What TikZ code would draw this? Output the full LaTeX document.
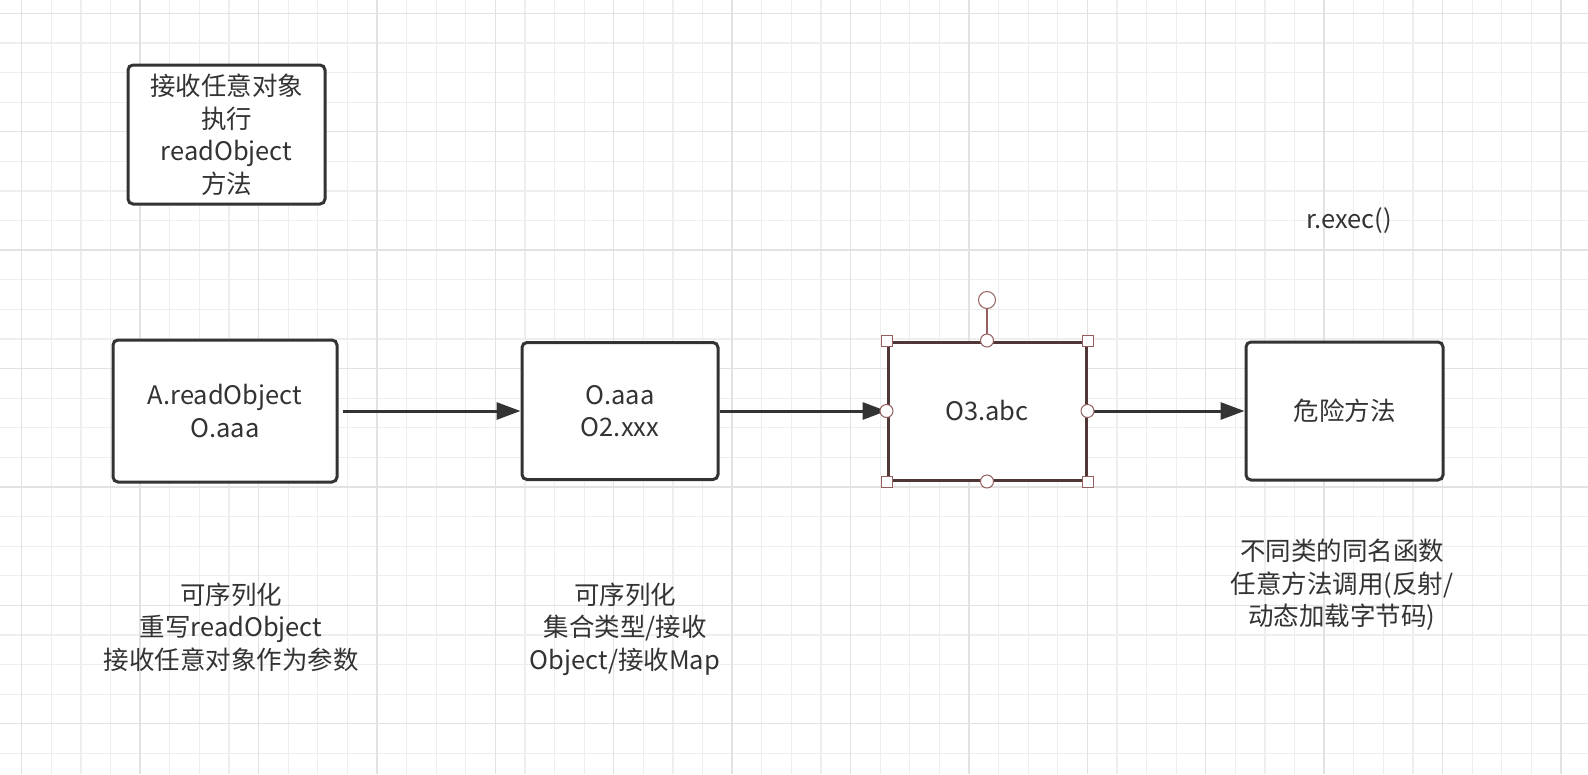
\documentclass[tikz,border=0pt]{standalone}
\usepackage{fontspec}
\setmainfont{Noto Sans CJK SC}
\usetikzlibrary{arrows.meta}
\definecolor{ink}{HTML}{333333}
\definecolor{gridminor}{HTML}{EEEEEE}
\definecolor{gridmajor}{HTML}{E2E2E2}
\definecolor{selbox}{RGB}{80,55,55}
\definecolor{selhandle}{RGB}{150,95,95}
\tikzset{
  box/.style={draw=ink, line width=3pt, rounded corners=5pt, fill=white, text=ink,
    align=center, inner sep=0pt, font=\fontsize{25.5}{32.5}\selectfont},
  selbox/.style={draw=selbox, line width=3pt, fill=white, text=ink, align=center,
    inner sep=0pt, font=\fontsize{25.5}{32.5}\selectfont},
  label/.style={text=ink, align=center, inner sep=0pt, font=\fontsize{25.5}{32.5}\selectfont},
  flow/.style={draw=ink, line width=3pt, -{Triangle[length=24pt,width=17pt]}},
  sqhandle/.style={draw=selhandle, fill=white, line width=1pt, minimum size=11pt, inner sep=0pt},
  cihandle/.style={circle, draw=selhandle, fill=white, line width=1pt, minimum size=13pt, inner sep=0pt},
}
\begin{document}
\begin{tikzpicture}[x=1pt,y=-1pt]
\useasboundingbox (0,0) rectangle (1588,774);
\fill[white] (0,0) rectangle (1588,774);
% grid
\foreach \i in {0,...,54} {
  \draw[gridminor, line width=1.2pt] ({21.7+29.6*(\i-1)},0) -- ({21.7+29.6*(\i-1)},774);
}
\foreach \i in {0,...,26} {
  \draw[gridminor, line width=1.2pt] (0,{13.3+29.6*\i}) -- (1588,{13.3+29.6*\i});
}
\foreach \i in {0,...,13} {
  \draw[gridmajor, line width=1.4pt] ({21.7+118.4*\i},0) -- ({21.7+118.4*\i},774);
}
\foreach \i in {0,...,6} {
  \draw[gridmajor, line width=1.4pt] (0,{13.3+118.4*\i}) -- (1588,{13.3+118.4*\i});
}
% boxes
\node[box, minimum width=197pt, minimum height=139pt] (top) at (226.5,134.5)
  {接收任意对象\\执行\\readObject\\方法};
\node[box, minimum width=224pt, minimum height=142pt] (A) at (225,411)
  {A.readObject\\O.aaa};
\node[box, minimum width=196pt, minimum height=137pt] (O) at (620,411)
  {O.aaa\\O2.xxx};
\node[selbox, minimum width=198pt, minimum height=138pt] (O3) at (987,411)
  {O3.abc};
\node[box, minimum width=197pt, minimum height=138pt] (D) at (1344.5,411)
  {危险方法};
% connectors
\draw[flow] (A.east) ++(4pt,0) coordinate (a1) (a1) -- (O.west);
\draw[flow] (O) -- (O3);
\draw[flow] (O3) -- (D);
% selection handles
\coordinate (rot) at (987,300);
\draw[selhandle, line width=1.2pt] (O3.north) -- (rot);
\node[cihandle, minimum size=17pt] (rh) at (rot) {};
\foreach \a in {north west,north east,south west,south east} {
  \node[sqhandle] at (O3.\a) {};
}
\foreach \a in {north,south,east,west} {
  \node[cihandle] at (O3.\a) {};
}
% labels
\node[label] (rexec) at (1349,221) {r.exec()};
\node[label] (la) at (231,627) {可序列化\\重写readObject\\接收任意对象作为参数};
\node[label] (lo) at (625,629) {可序列化\\集合类型/接收\\Object/接收Map};
\node[label] (ld) at (1342,585) {不同类的同名函数\\任意方法调用(反射/\\动态加载字节码)};
\end{tikzpicture}
\end{document}
